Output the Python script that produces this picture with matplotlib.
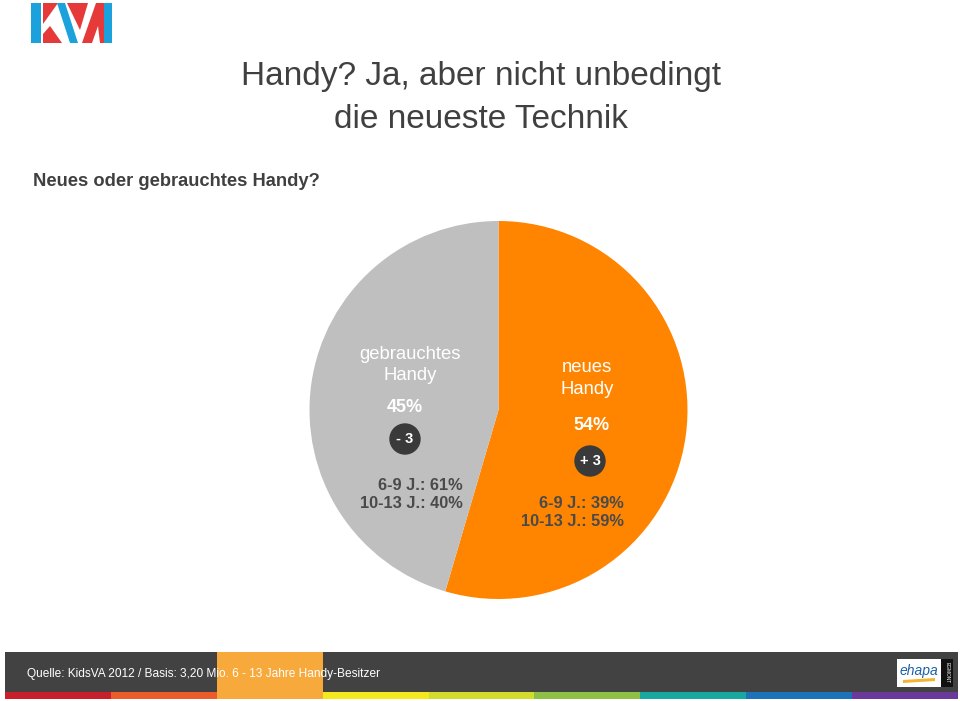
import matplotlib
matplotlib.use("Agg")
import matplotlib.pyplot as plt
from matplotlib.patches import Rectangle, Polygon, Ellipse

# ---- data ----
categories = ["neues Handy", "gebrauchtes Handy"]
values = [54, 45]
changes = ["+ 3", "- 3"]
age_6_9 = [39, 61]
age_10_13 = [59, 40]
slice_colors = ["#FF8500", "#BFBFBF"]

title_lines = ["Handy? Ja, aber nicht unbedingt", "die neueste Technik"]
subtitle = "Neues oder gebrauchtes Handy?"
source = "Quelle: KidsVA 2012 / Basis: 3,20 Mio. 6 - 13 Jahre Handy-Besitzer"
strip_colors = ["#C8202A", "#EC5B2A", "#F7A93B", "#F6E81F", "#D3DC2C",
                "#8DC044", "#17A9A0", "#1C73B9", "#6A3A9B"]

W, H = 960, 701
fig = plt.figure(figsize=(W / 100, H / 100), dpi=100)
plt.rcParams['font.family'] = ['Liberation Sans', 'DejaVu Sans']


def fx(x):
    return x / W


def fy(y):
    return 1 - y / H


def prect(x0, y0, x1, y1, color, z=1):
    fig.patches.append(Rectangle((fx(x0), fy(y1)), fx(x1 - x0), (y1 - y0) / H,
                                 transform=fig.transFigure, color=color, zorder=z, lw=0))


def ppoly(pts, color, z=2):
    fig.patches.append(Polygon([(fx(x), fy(y)) for x, y in pts], closed=True,
                               transform=fig.transFigure, color=color, zorder=z, lw=0))


# ---- logo (approximation) ----
blue, red = "#1BA1DB", "#E63A3A"
prect(31, 3, 41, 43, blue)
ppoly([(43, 3), (58, 3), (43, 24)], red)
ppoly([(43, 34), (50, 26), (62, 43), (43, 43)], red)
ppoly([(57, 3), (65, 3), (78, 43), (70, 43)], blue)
ppoly([(67, 3), (88, 3), (80, 30)], red)
ppoly([(82, 43), (96, 3), (104, 3), (104, 43)], red)
ppoly([(92, 43), (98, 26), (100, 43)], "white", z=3)
prect(104, 3, 112, 43, blue)

# ---- titles ----
fig.text(fx(481), fy(76), title_lines[0], ha="center", va="center",
         fontsize=24, color="#404040")
fig.text(fx(481), fy(120), title_lines[1], ha="center", va="center",
         fontsize=24, color="#404040")
fig.text(fx(33), fy(182), subtitle, ha="left", va="center",
         fontsize=13.2, fontweight="bold", color="#404040")

# ---- pie ----
cx, cy, r = 498.5, 410, 189
ax = fig.add_axes([fx(cx - r), fy(cy + r), 2 * r / W, 2 * r / H])
ax.pie(values, colors=slice_colors, startangle=90, counterclock=False,
       radius=1, wedgeprops=dict(linewidth=0))
ax.set_xlim(-1, 1)
ax.set_ylim(-1, 1)
ax.set_aspect("auto")
ax.axis("off")

# labels: index 0 = neues (right), 1 = gebraucht (left)
label_pos = [
    dict(name=(587, 368, 390), pct=(591, 425), badge=(590, 461), age=(624, 503, 522)),
    dict(name=(410, 354, 376), pct=(405, 407), badge=(405, 439), age=(463, 485, 503)),
]
for i, lp in enumerate(label_pos):
    w1, w2 = categories[i].split(" ")
    x, y1, y2 = lp["name"]
    fig.text(fx(x), fy(y1), w1, ha="center", va="center", fontsize=13.3, color="white")
    fig.text(fx(x), fy(y2), w2, ha="center", va="center", fontsize=13.3, color="white")
    px, py = lp["pct"]
    fig.text(fx(px), fy(py), f"{values[i]}%", ha="center", va="center",
             fontsize=13, fontweight="bold", color="white")
    bx, by = lp["badge"]
    fig.patches.append(Ellipse((fx(bx), fy(by)), 30 / W, 30 / H, transform=fig.transFigure,
                               color="#3A3A3A", zorder=3))
    fig.text(fx(bx), fy(by), changes[i], ha="center", va="center", fontsize=10.5,
             fontweight="bold", color="white", zorder=4)
    ax_, ay1, ay2 = lp["age"]
    fig.text(fx(ax_), fy(ay1), f"6-9 J.: {age_6_9[i]}%", ha="right", va="center",
             fontsize=11.8, fontweight="bold", color="#4A4A4A")
    fig.text(fx(ax_), fy(ay2), f"10-13 J.: {age_10_13[i]}%", ha="right", va="center",
             fontsize=11.8, fontweight="bold", color="#4A4A4A")

# ---- footer ----
prect(5, 652, 958, 692, "#424242")
seg = (958 - 5) / len(strip_colors)
for i, c in enumerate(strip_colors):
    prect(5 + i * seg, 692, 5 + (i + 1) * seg, 699, c)
prect(5 + 2 * seg, 652, 5 + 3 * seg, 692, strip_colors[2])
fig.text(fx(27), fy(674), source, ha="left", va="center", fontsize=8.6,
         color="white", zorder=5)

# ehapa logo
prect(897, 659, 941, 687, "white", z=3)
prect(941, 659, 953, 687, "#111111", z=3)
fig.text(fx(919), fy(671), "ehapa", ha="center", va="center", fontsize=10,
         style="italic", color="#1C5FA8", zorder=5)
ppoly([(903, 680), (935, 678), (935, 681), (903, 683)], "#F2B531", z=4)
fig.text(fx(947), fy(673), "EGMONT", ha="center", va="center", fontsize=3.5,
         rotation=270, color="white", zorder=5)

fig.savefig("out.png", dpi=100)
